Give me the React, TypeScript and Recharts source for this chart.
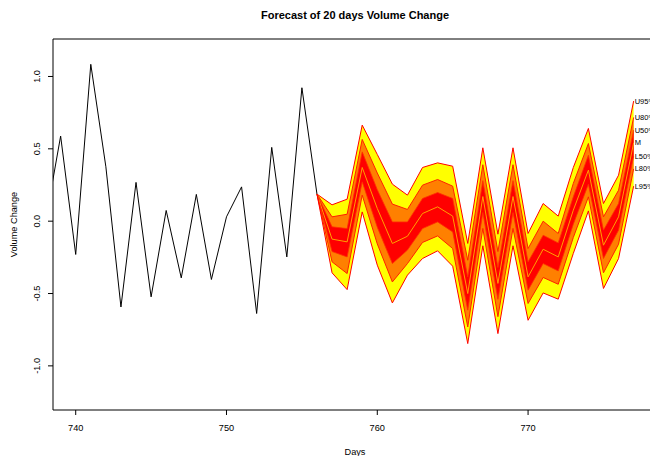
import {
    ComposedChart,
    Area,
    Line,
    XAxis,
    YAxis,
    ReferenceLine,
    LabelList,
    Label,
} from 'recharts';

// observed series (days 738-756)
const actualDays = [738, 739, 740, 741, 742, 743, 744, 745, 746, 747, 748, 749, 750, 751, 752, 753, 754, 755, 756];
const actualValues = [0.0, 0.588, -0.23, 1.084, 0.376, -0.593, 0.268, -0.523, 0.074, -0.392, 0.185, -0.403, 0.03, 0.237, -0.638, 0.51, -0.247, 0.922, 0.187];

// forecast fan (days 756-777)
const fcDays = [756, 757, 758, 759, 760, 761, 762, 763, 764, 765, 766, 767, 768, 769, 770, 771, 772, 773, 774, 775, 776, 777];
const u95 = [0.187, 0.113, 0.152, 0.664, 0.461, 0.256, 0.18, 0.371, 0.403, 0.38, -0.154, 0.507, -0.09, 0.507, -0.085, 0.122, 0.035, 0.371, 0.641, 0.122, 0.318, 0.83];
const u80 = [0.187, 0.03, 0.048, 0.565, 0.333, 0.118, 0.081, 0.249, 0.288, 0.242, -0.27, 0.39, -0.21, 0.39, -0.189, 0.0, -0.085, 0.261, 0.537, 0.03, 0.214, 0.717];
const u50 = [0.187, -0.039, -0.051, 0.479, 0.218, -0.005, -0.005, 0.157, 0.198, 0.157, -0.385, 0.28, -0.32, 0.28, -0.281, -0.097, -0.15, 0.168, 0.456, -0.062, 0.122, 0.629];
const mid = [0.187, -0.124, -0.143, 0.371, 0.088, -0.154, -0.104, 0.053, 0.099, 0.035, -0.5, 0.17, -0.43, 0.17, -0.385, -0.194, -0.247, 0.076, 0.353, -0.166, 0.03, 0.541];
const l50 = [0.187, -0.21, -0.247, 0.272, -0.042, -0.293, -0.2, -0.051, -0.005, -0.074, -0.615, 0.06, -0.54, 0.06, -0.477, -0.293, -0.344, -0.021, 0.256, -0.258, -0.062, 0.449];
const l80 = [0.187, -0.281, -0.362, 0.18, -0.157, -0.42, -0.293, -0.147, -0.102, -0.189, -0.731, -0.05, -0.66, -0.05, -0.569, -0.389, -0.436, -0.113, 0.168, -0.357, -0.159, 0.361];
const l95 = [0.187, -0.357, -0.473, 0.064, -0.304, -0.565, -0.373, -0.258, -0.205, -0.311, -0.846, -0.17, -0.777, -0.17, -0.685, -0.496, -0.539, -0.223, 0.071, -0.465, -0.258, 0.242];

const xTicks = [740, 750, 760, 770];
const yTicks = [-1, -0.5, 0, 0.5, 1];
const xDomain = [738.494, 778.55];
const yDomain = [-1.305, 1.259];

const FONT = '"Liberation Sans", Arial, Helvetica, sans-serif';

type Row = {
    day: number;
    actual?: number;
    u95?: number;
    u80?: number;
    u50?: number;
    mid?: number;
    l50?: number;
    l80?: number;
    l95?: number;
};

const byDay = new Map<number, Row>();
actualDays.forEach((d, i) => byDay.set(d, { day: d, actual: actualValues[i] }));
fcDays.forEach((d, i) => {
    const row = byDay.get(d) ?? { day: d };
    byDay.set(d, {
        ...row,
        u95: u95[i], u80: u80[i], u50: u50[i], mid: mid[i],
        l50: l50[i], l80: l80[i], l95: l95[i],
    });
});
const data: Row[] = [...byDay.values()].sort((a, b) => a.day - b.day);
const lastIndex = data.length - 1;

const band = (lo: keyof Row, hi: keyof Row) => (d: Row) =>
    d[hi] === undefined ? null : [d[lo], d[hi]];

const endLabel = (text: string) => (props: any) => {
    if (props.index !== lastIndex) return null;
    return (
        <text
            x={Number(props.x) + 1}
            y={Number(props.y)}
            fontSize={7.5}
            fontFamily={FONT}
            fill="#000"
            dominantBaseline="central"
        >
            {text}
        </text>
    );
};

const XTick = ({ x, y, payload }: any) => (
    <text x={x} y={y + 14} textAnchor="middle" fontSize={9.2} fontFamily={FONT} fill="#000">
        {payload.value}
    </text>
);

const YTick = ({ x, y, payload }: any) => {
    const tx = x - 5.5;
    return (
        <text
            x={tx}
            y={y}
            transform={`rotate(-90, ${tx}, ${y})`}
            textAnchor="middle"
            fontSize={9.2}
            fontFamily={FONT}
            fill="#000"
        >
            {Number(payload.value).toFixed(1)}
        </text>
    );
};

const YTitle = ({ viewBox }: any) => {
    const cy = viewBox.y + viewBox.height / 2;
    return (
        <text
            x={16.7}
            y={cy}
            transform={`rotate(-90, 16.7, ${cy})`}
            textAnchor="middle"
            fontSize={9.2}
            fontFamily={FONT}
            fill="#000"
        >
            Volume Change
        </text>
    );
};

const XTitle = () => (
    <text x={355} y={454.5} textAnchor="middle" fontSize={9.2} fontFamily={FONT} fill="#000">
        Days
    </text>
);

export default function App() {
    return (
        <div
            style={{
                position: 'absolute',
                left: 0,
                top: 0,
                width: 650,
                height: 456,
                overflow: 'hidden',
                background: '#fff',
            }}
        >
            <div
                style={{
                    position: 'absolute',
                    left: 0,
                    top: 10.2,
                    width: 710,
                    height: 11,
                    lineHeight: '11px',
                    textAlign: 'center',
                    fontFamily: FONT,
                    fontWeight: 'bold',
                    fontSize: 11,
                    color: '#000',
                }}
            >
                Forecast of 20 days Volume Change
            </div>
            <ComposedChart
                width={680}
                height={456}
                data={data}
                margin={{ top: 39, right: 23, left: 0, bottom: 0 }}
            >
                <XAxis
                    type="number"
                    dataKey="day"
                    domain={xDomain}
                    allowDataOverflow
                    ticks={xTicks}
                    tickSize={5}
                    height={46}
                    axisLine={{ stroke: '#000', strokeWidth: 1 }}
                    tickLine={{ stroke: '#000' }}
                    tick={XTick}
                >
                    <Label content={XTitle} />
                </XAxis>
                <YAxis
                    type="number"
                    domain={yDomain}
                    allowDataOverflow
                    ticks={yTicks}
                    tickSize={5}
                    width={53}
                    axisLine={{ stroke: '#000', strokeWidth: 1 }}
                    tickLine={{ stroke: '#000' }}
                    tick={YTick}
                >
                    <Label content={YTitle} />
                </YAxis>
                <ReferenceLine y={yDomain[1]} stroke="#000" strokeWidth={1} />

                <Area type="linear" dataKey={band('l95', 'u95')} fill="#FFFF00" fillOpacity={1} stroke="none" isAnimationActive={false} />
                <Area type="linear" dataKey={band('l80', 'u80')} fill="#FF8000" fillOpacity={1} stroke="none" isAnimationActive={false} />
                <Area type="linear" dataKey={band('l50', 'u50')} fill="#FF0000" fillOpacity={1} stroke="none" isAnimationActive={false} />

                <Line type="linear" dataKey="u95" stroke="#FF0000" strokeWidth={1} dot={false} isAnimationActive={false}>
                    <LabelList content={endLabel('U95%')} />
                </Line>
                <Line type="linear" dataKey="u80" stroke="#FF2000" strokeWidth={1} dot={false} isAnimationActive={false}>
                    <LabelList content={endLabel('U80%')} />
                </Line>
                <Line type="linear" dataKey="u50" stroke="#FF3000" strokeWidth={0.8} dot={false} isAnimationActive={false}>
                    <LabelList content={endLabel('U50%')} />
                </Line>
                <Line type="linear" dataKey="mid" stroke="#FFA000" strokeWidth={1} dot={false} isAnimationActive={false}>
                    <LabelList content={endLabel('M')} />
                </Line>
                <Line type="linear" dataKey="l50" stroke="#FF3000" strokeWidth={0.8} dot={false} isAnimationActive={false}>
                    <LabelList content={endLabel('L50%')} />
                </Line>
                <Line type="linear" dataKey="l80" stroke="#FF2000" strokeWidth={1} dot={false} isAnimationActive={false}>
                    <LabelList content={endLabel('L80%')} />
                </Line>
                <Line type="linear" dataKey="l95" stroke="#FF0000" strokeWidth={1} dot={false} isAnimationActive={false}>
                    <LabelList content={endLabel('L95%')} />
                </Line>

                <Line type="linear" dataKey="actual" stroke="#000" strokeWidth={1} dot={false} isAnimationActive={false} />
            </ComposedChart>
        </div>
    );
}
